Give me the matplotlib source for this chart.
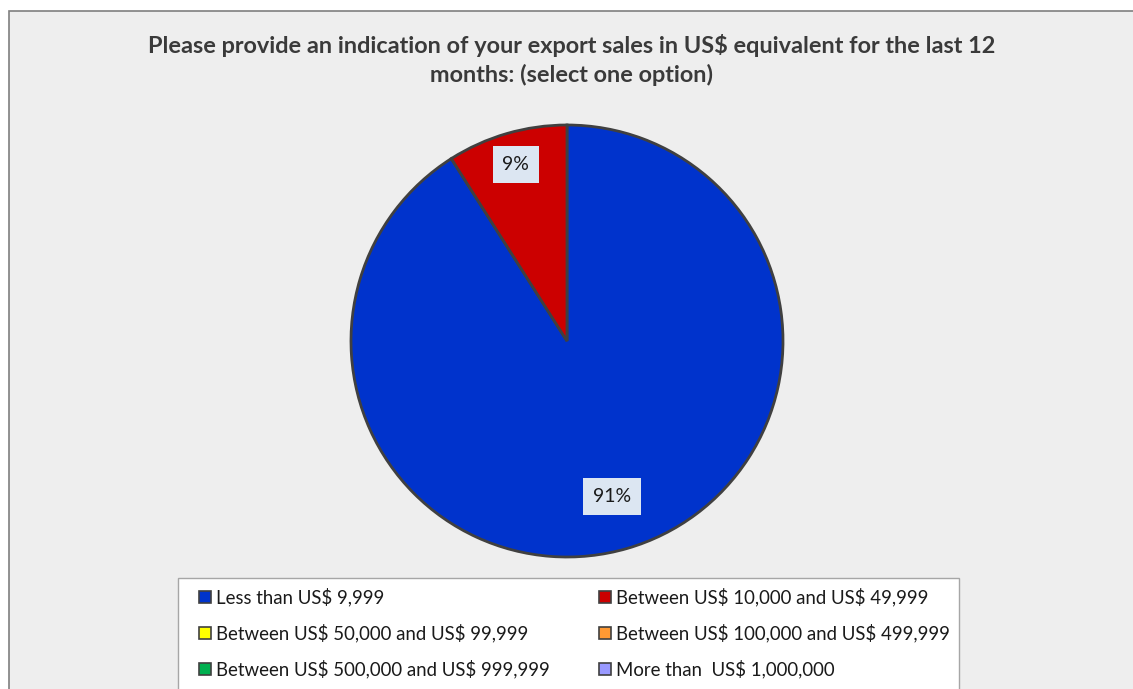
import numpy as np
import matplotlib.pyplot as plt
from matplotlib.patches import Rectangle

plt.rcParams['font.family'] = ['Lato', 'DejaVu Sans']

# Survey answers
categories = [
    'Less than US$ 9,999',
    'Between US$ 10,000 and US$ 49,999',
    'Between US$ 50,000 and US$ 99,999',
    'Between US$ 100,000 and US$ 499,999',
    'Between US$ 500,000 and US$ 999,999',
    'More than  US$ 1,000,000',
]
shares = [91, 9, 0, 0, 0, 0]
colors = ['#0033CC', '#CC0000', '#FFFF00', '#FF9933', '#00B050', '#9999FF']
title = ('Please provide an indication of your export sales in US$ equivalent for the last 12\n'
         'months: (select one option)')

W, H = 1133, 689
CX, CY, R = 567, 341, 216

fig = plt.figure(figsize=(W / 100, H / 100), dpi=100)
ax = fig.add_axes([0, 0, 1, 1])


def Y(y):
    # top-down pixel row -> axis y
    return H - y


# chart area background
ax.add_patch(Rectangle((9, Y(H + 20)), W + 20, H + 9, facecolor='#EEEEEE',
                       edgecolor='#7F7F7F', linewidth=1.2, zorder=0))

ax.text(572, Y(60), title, ha='center', va='center', fontsize=16.9,
        fontweight='bold', color='#3A3A3A', linespacing=1.38, parse_math=False)

# only the answered options get wedges
vals = [v for v in shares if v > 0]
cols = [c for v, c in zip(shares, colors) if v > 0]
wedges, _ = ax.pie(vals, colors=cols, startangle=90, counterclock=False,
                   center=(CX, Y(CY)), radius=R, frame=True,
                   wedgeprops=dict(edgecolor='#404040', linewidth=2.0))
ax.set_xlim(0, W)
ax.set_ylim(0, H)
ax.axis('off')

label_dist = [0.75, 0.85]
for w, v, d in zip(wedges, vals, label_dist):
    mid = np.deg2rad((w.theta1 + w.theta2) / 2)
    x = CX + d * R * np.cos(mid)
    y = Y(CY) + d * R * np.sin(mid)
    ax.text(x, y, f'{v}%', ha='center', va='center', fontsize=14, color='#1A1A1A',
            bbox=dict(boxstyle='square,pad=0.5', facecolor='#DCE6F2', edgecolor='none'))

# legend box
ax.add_patch(Rectangle((178, Y(H + 20)), 781, H + 20 - 578, facecolor='white',
                       edgecolor='#A6A6A6', linewidth=1.0, zorder=2))
col_x = [199, 599]
row_y = [597, 633, 669]
for i, (name, c) in enumerate(zip(categories, colors)):
    x0 = col_x[i % 2]
    y0 = row_y[i // 2]
    ax.add_patch(Rectangle((x0, Y(y0 + 6)), 12, 12, facecolor=c,
                           edgecolor='#404040', linewidth=1.2, zorder=3))
    ax.text(x0 + 17, Y(y0), name, ha='left', va='center', fontsize=13.4,
            color='#1A1A1A', zorder=3, parse_math=False)

fig.savefig('out.png', dpi=100, facecolor='white')
